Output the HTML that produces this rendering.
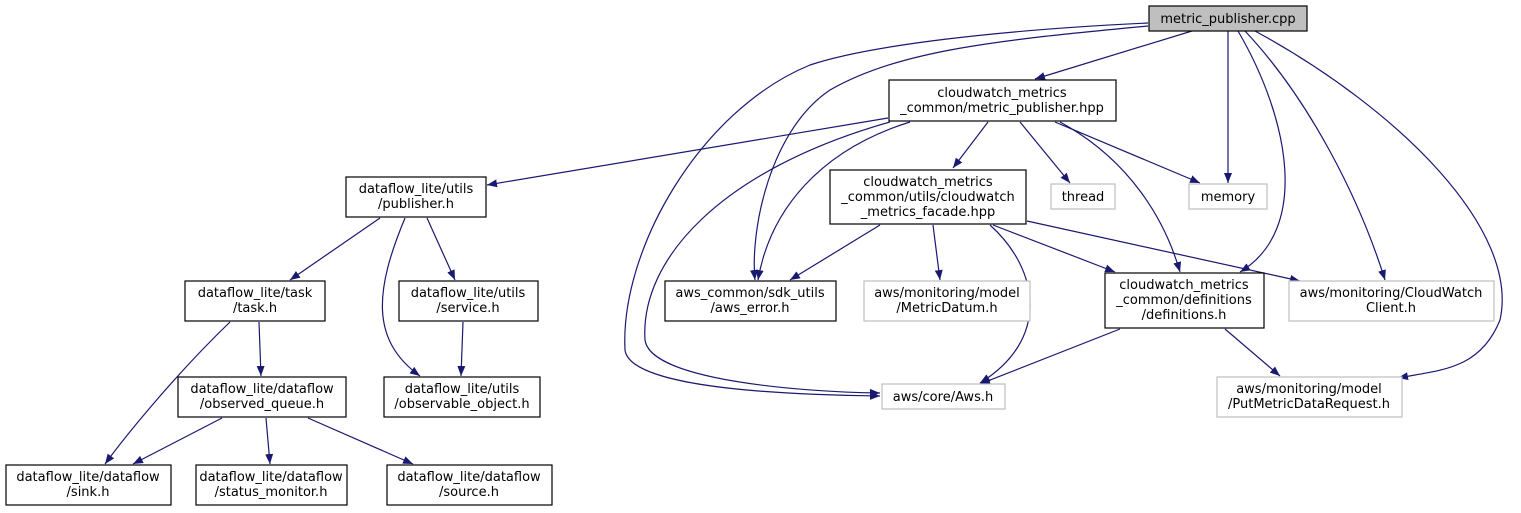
<!DOCTYPE html>
<html><head><meta charset="utf-8"><style>
html,body{margin:0;padding:0;background:#fff;}
svg{display:block;}
text{font-family:"DejaVu Sans",sans-serif;font-size:13px;fill:#000;}
</style></head><body>
<svg width="1521" height="513" viewBox="0 0 1521 513" xmlns="http://www.w3.org/2000/svg">
<defs><marker id="a" viewBox="0 0 10 10" refX="10" refY="5" markerWidth="10" markerHeight="10" markerUnits="userSpaceOnUse" orient="auto"><path d="M0,1 L10,5 L0,9 z" fill="#191970"/></marker></defs>
<g fill="none" stroke="#191970" stroke-width="1.2" marker-end="url(#a)">
<path d="M1192,31 L1035,79"/>
<path d="M1228,31 L1228,183"/>
<path d="M1238,31 C1290,120 1310,230 1240,272"/>
<path d="M1245,31 C1310,100 1360,200 1385,280"/>
<path d="M1255,31 C1400,110 1520,230 1500,320 C1480,370 1440,370 1398,378"/>
<path d="M1148,26 C1000,40 900,50 830,90 C770,130 750,230 755,280"/>
<path d="M1148,23 C1000,30 870,45 810,65 C700,110 620,250 625,350 C630,390 800,395 880,396"/>
<path d="M888,118 L487,185"/>
<path d="M910,122 C820,150 770,210 758,280"/>
<path d="M890,122 C720,170 640,260 645,340 C650,380 800,392 880,393"/>
<path d="M988,122 L953,168"/>
<path d="M1020,122 L1070,183"/>
<path d="M1055,122 L1200,183"/>
<path d="M1060,122 C1130,160 1165,220 1180,272"/>
<path d="M880,225 L790,280"/>
<path d="M933,225 L940,280"/>
<path d="M990,225 C1040,270 1050,340 980,383"/>
<path d="M993,225 L1115,272"/>
<path d="M1027,221 L1300,281"/>
<path d="M1120,329 L980,384"/>
<path d="M1225,329 L1280,376"/>
<path d="M380,218 L290,280"/>
<path d="M427,218 L455,280"/>
<path d="M405,218 C375,290 370,340 420,376"/>
<path d="M463,322 L461,376"/>
<path d="M259,322 L261,376"/>
<path d="M230,322 C180,370 130,430 105,464"/>
<path d="M222,418 L133,464"/>
<path d="M266,418 L270,464"/>
<path d="M308,418 L413,464"/>
</g>
<g stroke-width="1.2">
<rect x="1149" y="6" width="158" height="25" fill="#bfbfbf" stroke="#000"/>
<rect x="889" y="80" width="227" height="41" fill="#fff" stroke="#000"/>
<rect x="346" y="177" width="140" height="40" fill="#fff" stroke="#000"/>
<rect x="830" y="170" width="196" height="54" fill="#fff" stroke="#000"/>
<rect x="1051" y="184" width="64" height="25" fill="#fff" stroke="#bfbfbf"/>
<rect x="1189" y="184" width="78" height="25" fill="#fff" stroke="#bfbfbf"/>
<rect x="185" y="281" width="140" height="40" fill="#fff" stroke="#000"/>
<rect x="399" y="281" width="139" height="40" fill="#fff" stroke="#000"/>
<rect x="665" y="281" width="171" height="40" fill="#fff" stroke="#000"/>
<rect x="864" y="281" width="166" height="40" fill="#fff" stroke="#bfbfbf"/>
<rect x="1105" y="273" width="159" height="55" fill="#fff" stroke="#000"/>
<rect x="1289" y="281" width="205" height="40" fill="#fff" stroke="#bfbfbf"/>
<rect x="178" y="377" width="168" height="40" fill="#fff" stroke="#000"/>
<rect x="384" y="377" width="156" height="40" fill="#fff" stroke="#000"/>
<rect x="882" y="384" width="123" height="25" fill="#fff" stroke="#bfbfbf"/>
<rect x="1217" y="377" width="185" height="40" fill="#fff" stroke="#bfbfbf"/>
<rect x="6" y="465" width="165" height="40" fill="#fff" stroke="#000"/>
<rect x="196" y="465" width="151" height="40" fill="#fff" stroke="#000"/>
<rect x="387" y="465" width="165" height="40" fill="#fff" stroke="#000"/>
</g>
<g text-anchor="middle">
<text x="1228" y="23">metric_publisher.cpp</text>
<text x="1002" y="97">cloudwatch_metrics</text>
<text x="1002" y="112">_common/metric_publisher.hpp</text>
<text x="416" y="193">dataflow_lite/utils</text>
<text x="416" y="208">/publisher.h</text>
<text x="928" y="186">cloudwatch_metrics</text>
<text x="928" y="201">_common/utils/cloudwatch</text>
<text x="928" y="216">_metrics_facade.hpp</text>
<text x="1083" y="201">thread</text>
<text x="1228" y="201">memory</text>
<text x="255" y="297">dataflow_lite/task</text>
<text x="255" y="312">/task.h</text>
<text x="468" y="297">dataflow_lite/utils</text>
<text x="468" y="312">/service.h</text>
<text x="750" y="297">aws_common/sdk_utils</text>
<text x="750" y="312">/aws_error.h</text>
<text x="947" y="297">aws/monitoring/model</text>
<text x="947" y="312">/MetricDatum.h</text>
<text x="1184" y="289">cloudwatch_metrics</text>
<text x="1184" y="304">_common/definitions</text>
<text x="1184" y="319">/definitions.h</text>
<text x="1391" y="297">aws/monitoring/CloudWatch</text>
<text x="1391" y="312">Client.h</text>
<text x="262" y="393">dataflow_lite/dataflow</text>
<text x="262" y="408">/observed_queue.h</text>
<text x="462" y="393">dataflow_lite/utils</text>
<text x="462" y="408">/observable_object.h</text>
<text x="943" y="401">aws/core/Aws.h</text>
<text x="1309" y="393">aws/monitoring/model</text>
<text x="1309" y="408">/PutMetricDataRequest.h</text>
<text x="88" y="481">dataflow_lite/dataflow</text>
<text x="88" y="496">/sink.h</text>
<text x="271" y="481">dataflow_lite/dataflow</text>
<text x="271" y="496">/status_monitor.h</text>
<text x="469" y="481">dataflow_lite/dataflow</text>
<text x="469" y="496">/source.h</text>
</g>
</svg>
</body></html>
